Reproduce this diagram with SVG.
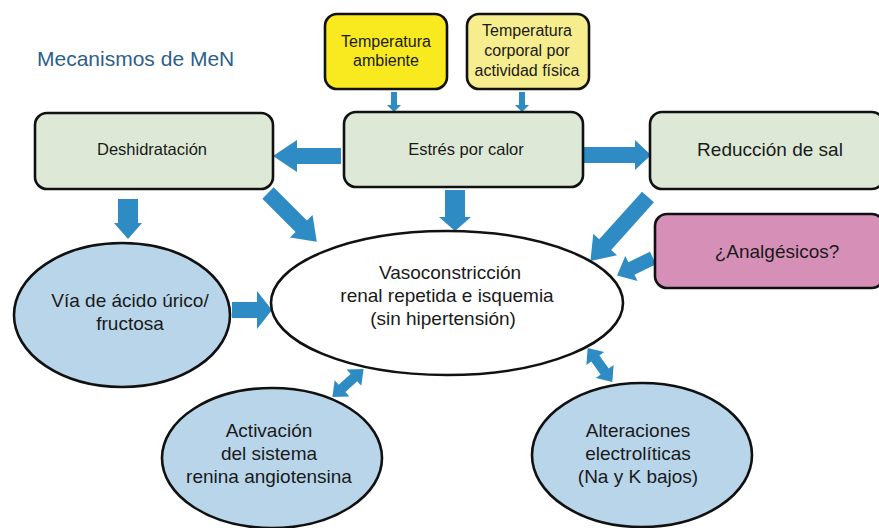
<svg xmlns="http://www.w3.org/2000/svg" width="879" height="528" viewBox="0 0 879 528">
<style>
.box{stroke:#111;stroke-width:2.6}
.ell{stroke:#111;stroke-width:2.6}
.t{font-family:"Liberation Sans",Arial,sans-serif;fill:#1a1a1a;text-anchor:middle}
.arr{fill:#2e8bc3}
</style>
<defs>
<path id="aSmall" d="M0,-3 L13,-3 L13,-7 L20,0 L13,7 L13,3 L0,3 Z"/>
<path id="dbl" d="M-21,0 L-8,-11 L-8,-5 L8,-5 L8,-11 L21,0 L8,11 L8,5 L-8,5 L-8,11 Z"/>
</defs>
<rect width="879" height="528" fill="#ffffff"/>
<text x="37" y="66" style="font-family:'Liberation Sans',Arial,sans-serif;font-size:21px;fill:#2d5f8c">Mecanismos de MeN</text>

<g id="connectors" class="arr">
<use href="#aSmall" transform="translate(394,92) rotate(90)"/>
<use href="#aSmall" transform="translate(522,92) rotate(90)"/>
<path transform="translate(341,156) rotate(180)" d="M0,-8 L44,-8 L44,-16 L68,0 L44,16 L44,8 L0,8 Z"/>
<path transform="translate(584,155)" d="M0,-8 L51,-8 L51,-15 L67,0 L51,15 L51,8 L0,8 Z"/>
<path transform="translate(455,190) rotate(90)" d="M0,-10 L27,-10 L27,-16 L41,0 L27,16 L27,10 L0,10 Z"/>
<path transform="translate(128,199) rotate(90)" d="M0,-10 L24,-10 L24,-14 L40,0 L24,14 L24,10 L0,10 Z"/>
<path transform="translate(268,193) rotate(45)" d="M0,-8 L47,-8 L47,-16 L69,0 L47,16 L47,8 L0,8 Z"/>
<path transform="translate(648,197) rotate(132)" d="M0,-8 L64,-8 L64,-16 L86,0 L64,16 L64,8 L0,8 Z"/>
<path transform="translate(653,258) rotate(154)" d="M0,-7 L24,-7 L24,-14 L40,0 L24,14 L24,7 L0,7 Z"/>
<path transform="translate(232,310)" d="M0,-8 L25,-8 L25,-19 L40,0 L25,19 L25,8 L0,8 Z"/>
<use href="#dbl" transform="translate(348,383) rotate(138)"/>
<use href="#dbl" transform="translate(600,365) rotate(54)"/>
</g>

<g id="temp-ambiente">
<rect class="box" x="325" y="14" width="122" height="75" rx="12" fill="#f8ea1e"/>
<text class="t" x="386" y="47" font-size="16">Temperatura</text>
<text class="t" x="386" y="66" font-size="16">ambiente</text>
</g>
<g id="temp-corporal">
<rect class="box" x="467" y="14" width="122" height="75" rx="12" fill="#f6ee8e"/>
<text class="t" x="527" y="36" font-size="16">Temperatura</text>
<text class="t" x="527" y="56" font-size="16">corporal por</text>
<text class="t" x="527" y="76" font-size="16">actividad física</text>
</g>
<g id="estres">
<rect class="box" x="344" y="112" width="239" height="75" rx="12" fill="#dde9d6"/>
<text class="t" x="466" y="155" font-size="16.5">Estrés por calor</text>
</g>
<g id="deshidratacion">
<rect class="box" x="35" y="113" width="238" height="76" rx="12" fill="#dde9d6"/>
<text class="t" x="152" y="155" font-size="16.5">Deshidratación</text>
</g>
<g id="reduccion">
<rect class="box" x="650" y="112" width="234" height="77" rx="12" fill="#dde9d6"/>
<text class="t" x="770" y="156" font-size="19">Reducción de sal</text>
</g>
<g id="analgesicos">
<rect class="box" x="655" y="214" width="229" height="74" rx="12" fill="#d690b8"/>
<text class="t" x="777" y="258" font-size="19">¿Analgésicos?</text>
</g>
<g id="vasoconstriccion">
<ellipse class="ell" cx="447" cy="303" rx="176" ry="72" fill="#ffffff"/>
<text class="t" x="450" y="279" font-size="19">Vasoconstricción</text>
<text class="t" x="447" y="302" font-size="19">renal repetida e isquemia</text>
<text class="t" x="443" y="325" font-size="19">(sin hipertensión)</text>
</g>
<g id="acido-urico">
<ellipse class="ell" cx="122" cy="315" rx="108" ry="72" fill="#b8d5ea"/>
<text class="t" x="130" y="307" font-size="19">Vía de ácido úrico/</text>
<text class="t" x="130" y="330" font-size="19">fructosa</text>
</g>
<g id="activacion">
<ellipse class="ell" cx="272" cy="458" rx="110" ry="70" fill="#b8d5ea"/>
<text class="t" x="269" y="437" font-size="19">Activación</text>
<text class="t" x="269" y="460" font-size="19">del sistema</text>
<text class="t" x="269" y="483" font-size="19">renina angiotensina</text>
</g>
<g id="alteraciones">
<ellipse class="ell" cx="642" cy="455" rx="110" ry="72" fill="#b8d5ea"/>
<text class="t" x="638" y="437" font-size="19">Alteraciones</text>
<text class="t" x="638" y="460" font-size="19">electrolíticas</text>
<text class="t" x="638" y="483" font-size="19">(Na y K bajos)</text>
</g>
</svg>
